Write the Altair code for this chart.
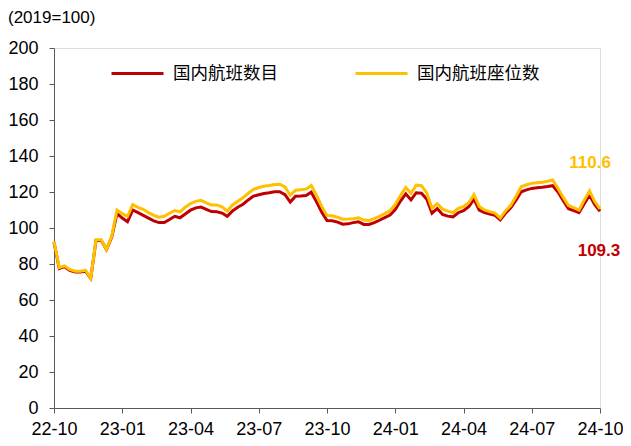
import altair as alt
import pandas as pd

quarter_labels = ["22-10", "23-01", "23-04", "23-07", "23-10", "24-01", "24-04", "24-07", "24-10"]
series_names = ["国内航班数目", "国内航班座位数"]

flights = [
    92, 77.5, 78.5, 76.5, 75.5, 75.5, 76, 72, 93, 93,
    88, 95, 108, 105.5, 103.5, 110, 108.5, 107, 105.5, 104,
    103, 103, 104.7, 106.5, 105.7, 107.8, 109.9, 111.2, 111.6, 110.4,
    109.1, 109, 108.3, 106.5, 109.5, 111.5, 113.2, 115.6, 117.7, 118.5,
    119.2, 119.6, 120.1, 120.2, 118.5, 114.4, 117.7, 117.8, 118, 119.9,
    114.5, 108.8, 104.2, 104, 103.3, 102.1, 102.3, 103, 103.5, 102,
    102, 103, 104.3, 105.8, 107.2, 110.3, 115, 119, 115.6, 119.6,
    119.3, 116, 108.2, 110.8, 107.5, 106.6, 106.2, 108.5, 109.6, 111.8,
    116, 110, 108.6, 107.7, 107, 104.5, 108.2, 111.2, 115.5, 120.1,
    121.2, 122, 122.3, 122.6, 123, 123.5, 120, 115.2, 110.7, 109.6,
    108.5, 113.5, 118.2, 113, 109.3,
]

seats = [
    92.5, 78, 79, 77, 76, 76, 76.5, 72, 93.5, 93.5,
    88, 95.5, 110, 108, 106.5, 113, 111.5, 110.4, 108.5, 107,
    106, 106.5, 108.2, 109.7, 109, 111.5, 113.6, 114.8, 115.4, 114,
    112.8, 112.8, 111.7, 109.3, 112.8, 114.8, 116.8, 119.3, 121.5, 122.5,
    123.2, 123.6, 124.2, 124.3, 122.8, 118.2, 121, 121.3, 121.6, 123.6,
    118.2, 112, 107, 106.8, 106, 104.9, 105, 105.2, 105.7, 104.4,
    104.2, 105.2, 106.5, 108, 109.6, 113, 118, 122.5, 119.3, 123.8,
    123.5, 119.5, 111, 113.5, 110.5, 109.4, 108.5, 110.9, 111.9, 114,
    118.5, 112, 110, 109.1, 108.3, 105.5, 109.5, 112.6, 117.5, 122.9,
    124, 124.8, 125.1, 125.4, 126, 126.7, 122, 117, 112.5, 111.3,
    110, 115.5, 120.6, 114.7, 110.6,
]

end_labels = ["109.3", "110.6"]
end_label_week = [103.8, 102.1]
end_label_pos = [87.5, 136]

colors = ["#C00000", "#FFC000"]

rows = []
for i, v in enumerate(flights):
    rows.append({"week": i, "value": v, "series": series_names[0]})
for i, v in enumerate(seats):
    rows.append({"week": i, "value": v, "series": series_names[1]})
df = pd.DataFrame(rows)

lab_df = pd.DataFrame({
    "week": end_label_week,
    "value": end_label_pos,
    "text": end_labels,
    "series": series_names,
})

tick_vals = [13 * i for i in range(len(quarter_labels))]
label_expr = "[" + ",".join(f"'{s}'" for s in quarter_labels) + "][round(datum.value/13)]"

x_scale = alt.Scale(domain=[0, 104], nice=False, zero=False)
y_scale = alt.Scale(domain=[0, 200], nice=False)

x_axis = alt.Axis(values=tick_vals, labelExpr=label_expr, title=None,
                  grid=False, tickSize=5, labelPadding=7,
                  labelOverlap=False, labelFlush=False,
                  domainColor="#595959", tickColor="#595959",
                  labelFont="Liberation Sans", labelFontSize=18,
                  labelColor="#000000")
y_axis = alt.Axis(values=list(range(0, 201, 20)), title=None, grid=False,
                  tickSize=5, labelPadding=11, labelOverlap=False,
                  labelFlush=False,
                  domainColor="#595959", tickColor="#595959",
                  labelFont="Liberation Sans", labelFontSize=18,
                  labelColor="#000000")

color_scale = alt.Scale(domain=series_names, range=colors)

lines = alt.Chart(df).mark_line(strokeWidth=3).encode(
    x=alt.X("week:Q", scale=x_scale, axis=x_axis),
    y=alt.Y("value:Q", scale=y_scale, axis=y_axis),
    color=alt.Color("series:N", scale=color_scale, sort=series_names,
                    legend=alt.Legend(title=None, orient="none", legendX=56, legendY=-2,
                                      direction="horizontal", symbolType="stroke",
                                      symbolSize=2704, symbolStrokeWidth=3,
                                      labelFont="Noto Sans CJK SC", labelFontSize=17.5,
                                      labelColor="#000000", labelOffset=8,
                                      columnPadding=71)),
)

labels = alt.Chart(lab_df).mark_text(font="Liberation Sans", fontSize=17,
                                     fontWeight="bold").encode(
    x=alt.X("week:Q", scale=x_scale, axis=x_axis),
    y=alt.Y("value:Q", scale=y_scale, axis=y_axis),
    text="text:N",
    color=alt.Color("series:N", scale=color_scale, legend=None),
)

unit = alt.Chart(pd.DataFrame({"t": ["(2019=100)"]})).mark_text(
    font="Liberation Sans", fontSize=17, align="left", baseline="middle", color="#000000"
).encode(x=alt.value(-46), y=alt.value(-30), text="t:N")

chart = alt.layer(lines, labels, unit).properties(
    width=546, height=360,
    autosize=alt.AutoSizeParams(type="none"),
    padding={"left": 46, "top": 40, "right": 23, "bottom": 30},
).configure_view(stroke=None).configure(background="white")

chart.save("out.html", embed_options={"renderer": "svg", "actions": False})
